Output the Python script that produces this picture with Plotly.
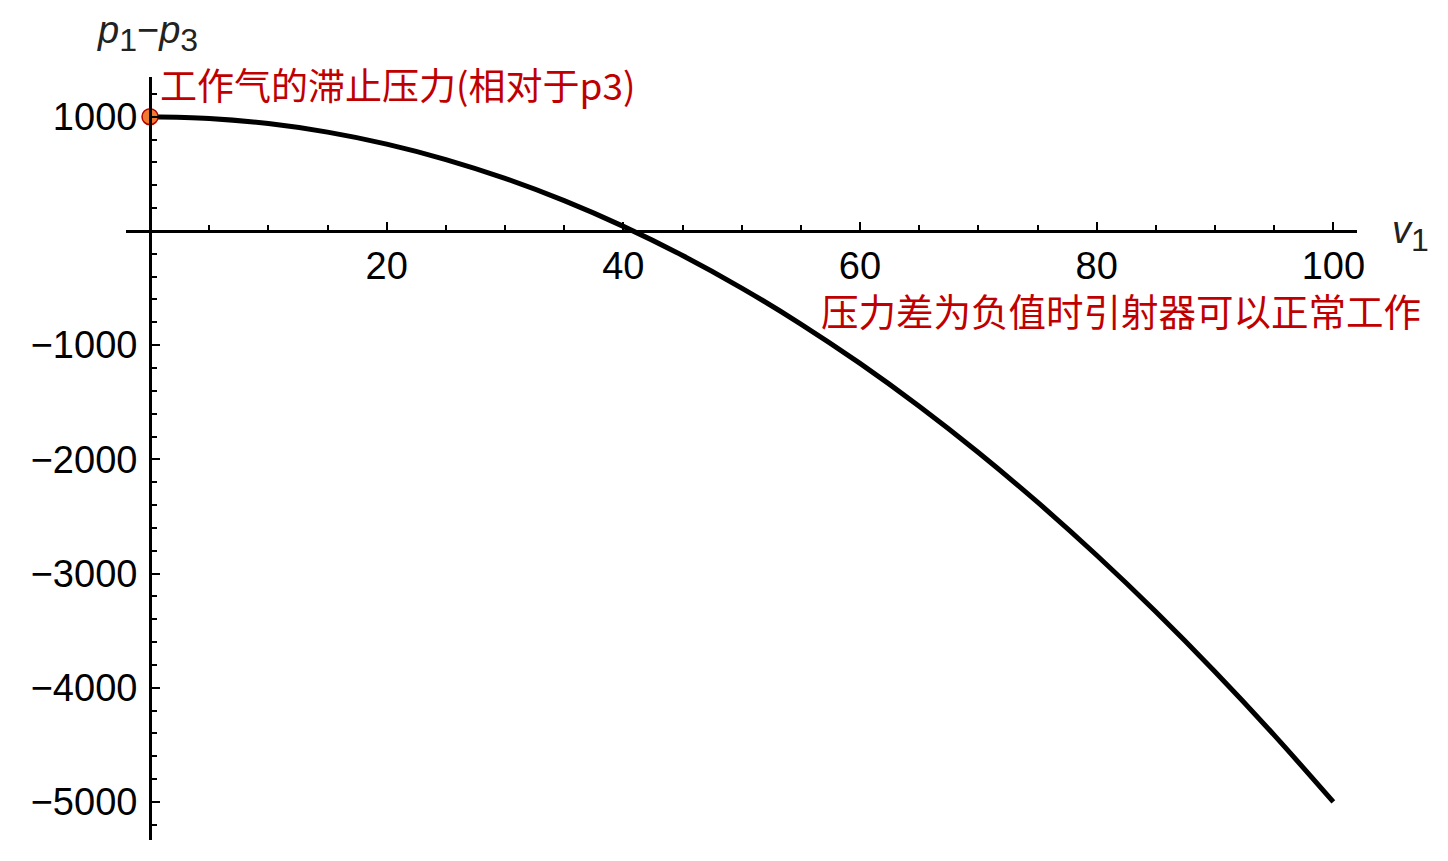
import plotly.graph_objects as go

# ---- données ----
v1 = [0, 5, 10, 15, 20, 25, 30, 35, 40, 45, 50,
      55, 60, 65, 70, 75, 80, 85, 90, 95, 100]
dp = [1000, 985, 940, 865, 760, 625, 460, 265, 40, -215, -500,
      -815, -1160, -1535, -1940, -2375, -2840, -3335, -3860, -4415, -5000]

x_ticks = [20, 40, 60, 80, 100]
y_ticks = [1000, -1000, -2000, -3000, -4000, -5000]

stag_v = [0]
stag_p = [1000]

label_top = "工作气的滞止压力(相对于p3)"
label_neg = "压力差为负值时引射器可以正常工作"

x_range = [-2.03, 102.0]
y_range = [-5333, 1348]

tick_font = dict(family="Liberation Sans, Arial", size=38, color="black")
red = "#c00000"
cjk = "Noto Sans CJK SC"

fig = go.Figure()
fig.add_trace(go.Scatter(
    x=v1, y=dp, mode="lines", line=dict(color="black", width=5, shape="spline"),
    hoverinfo="skip", showlegend=False))
fig.add_trace(go.Scatter(
    x=stag_v, y=stag_p, mode="markers", cliponaxis=False,
    marker=dict(size=16, color="#f07a30", line=dict(color="#b00000", width=1.5)),
    showlegend=False))

# position des axes (croisement en 0)
x0_frac = (0 - x_range[0]) / (x_range[1] - x_range[0])
y0_frac = (0 - y_range[0]) / (y_range[1] - y_range[0])

fig.update_layout(
    width=1448, height=861,
    margin=dict(l=118, r=99, t=69, b=29),
    plot_bgcolor="white", paper_bgcolor="white",
    xaxis=dict(range=x_range, anchor="free", position=y0_frac,
               showgrid=False, zeroline=False, showline=True,
               linecolor="black", linewidth=3,
               tickmode="array", tickvals=x_ticks, ticks="inside",
               ticklen=8, tickwidth=2, tickcolor="black", tickfont=tick_font,
               minor=dict(tickmode="linear", tick0=0, dtick=5, ticks="inside",
                          ticklen=5, tickwidth=2, tickcolor="black")),
    yaxis=dict(range=y_range, anchor="free", position=x0_frac,
               showgrid=False, zeroline=False, showline=True,
               linecolor="black", linewidth=3, ticklabelstandoff=4,
               tickmode="array", tickvals=y_ticks, ticks="inside",
               ticklen=8, tickwidth=2, tickcolor="black", tickfont=tick_font,
               minor=dict(tickmode="linear", tick0=0, dtick=200, ticks="inside",
                          ticklen=5, tickwidth=2, tickcolor="black")),
)

# ---- étiquettes ----
sub = "<sub><span style='font-size:32px'>%s</span></sub>"
fig.add_annotation(x=-0.025, y=1.057, xref="paper", yref="paper", xanchor="left", yanchor="middle",
                   text="<i>p</i>" + sub % "1" + "−<i>p</i>" + sub % "3", showarrow=False,
                   font=dict(family="Liberation Sans, Arial", size=38, color="#222"))
fig.add_annotation(x=1.027, y=0.795, xref="paper", yref="paper", xanchor="left", yanchor="middle",
                   text="<i>v</i>" + sub % "1", showarrow=False,
                   font=dict(family="Liberation Sans, Arial", size=38, color="#222"))
fig.add_annotation(x=0.68, y=1285, xref="x", yref="y", xanchor="left", yanchor="middle",
                   text=label_top, showarrow=False,
                   font=dict(family=cjk, size=37, color=red))
fig.add_annotation(x=56.5, y=-690, xref="x", yref="y", xanchor="left", yanchor="middle",
                   text=label_neg, showarrow=False,
                   font=dict(family=cjk, size=37.5, color=red))

fig.write_html("out.html")
